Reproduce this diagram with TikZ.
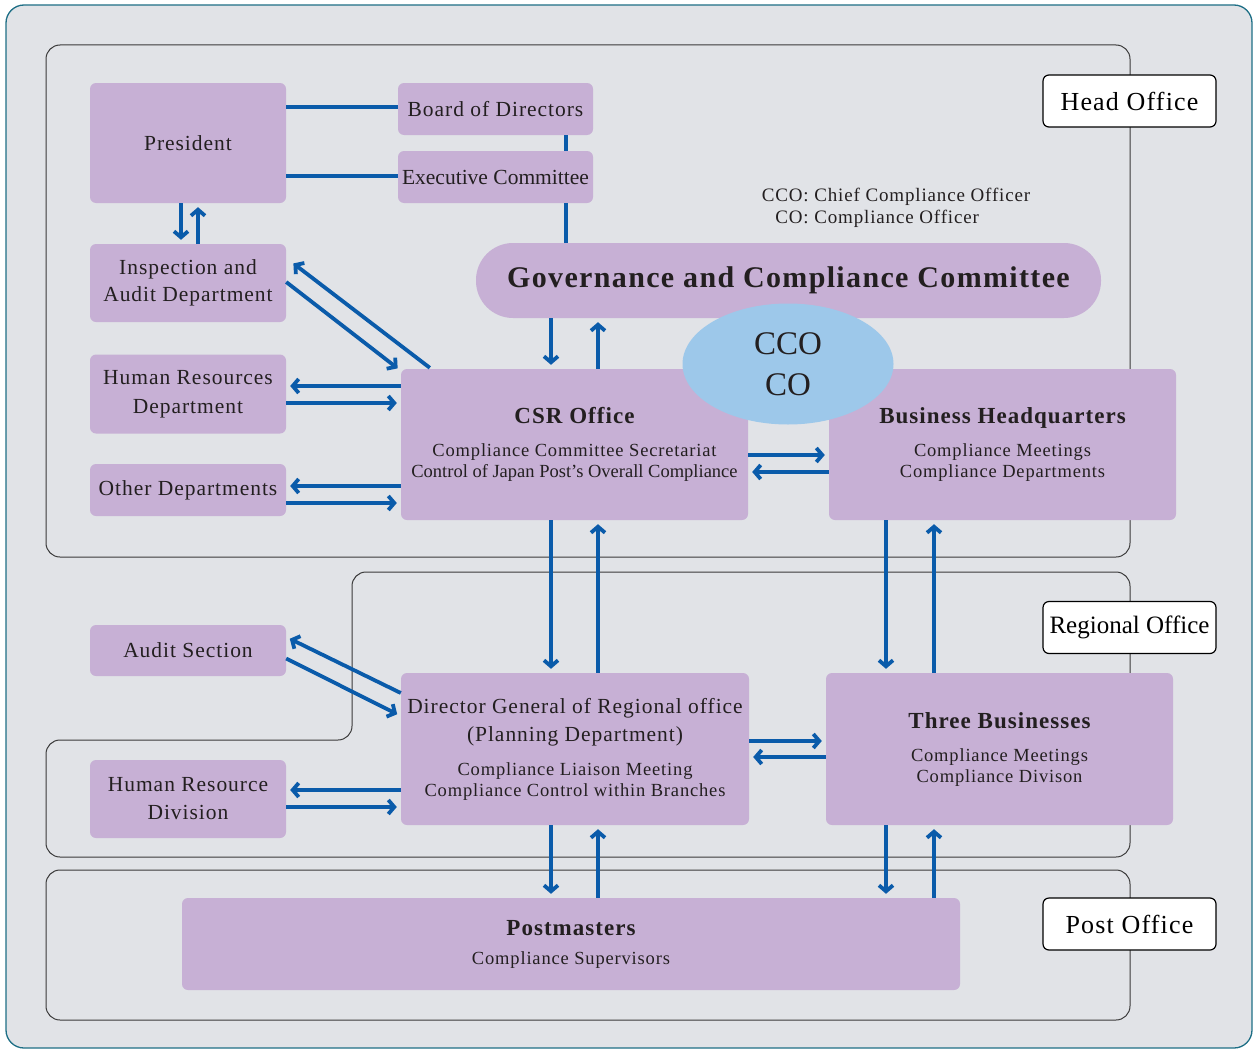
\documentclass[tikz,border=0pt]{standalone}
\usepackage{fontspec}
\setmainfont{Liberation Serif}[LetterSpace=4.5]
\newfontfamily\plainfont{Liberation Serif}
\usetikzlibrary{arrows.meta,calc,shapes.geometric}

\definecolor{pagebg}{HTML}{E1E3E7}
\definecolor{frame}{HTML}{1E6F86}
\definecolor{boxc}{HTML}{C7B0D5}
\definecolor{arrc}{HTML}{0A5BAA}
\definecolor{ovalc}{HTML}{9DC8EA}
\definecolor{regc}{HTML}{3A3A3A}
\definecolor{txt}{HTML}{231F20}

\tikzset{
  box/.style={fill=boxc, rounded corners=6pt, inner sep=1pt, align=center,
    text=txt, font=\fontsize{21.5}{27}\selectfont},
  subtext/.style={font=\fontsize{18.5}{21}\selectfont},
  arr/.style={draw=arrc, line width=3.8pt, shorten >=4pt,
    -{Straight Barb[length=6pt,width=14pt]}},
  link/.style={draw=arrc, line width=3.8pt},
  region/.style={draw=regc, line width=1pt, rounded corners=14pt},
  tag/.style={draw=black, fill=white, line width=1.2pt, rounded corners=6pt,
    minimum width=173pt, minimum height=52pt, inner sep=0pt, text=black,
    font=\fontsize{26}{30}\selectfont},
}
\newcommand{\ttl}[1]{{\fontsize{23}{28}\selectfont\bfseries #1}}
\newcommand{\dgl}[1]{{\fontsize{21.5}{28}\selectfont #1}}
\newcommand{\tight}[1]{{\plainfont #1}}

\begin{document}
\begin{tikzpicture}[x=1pt,y=-1pt]
\useasboundingbox (0,0) rectangle (1258,1049);

% background panel
\draw[fill=pagebg, draw=frame, line width=1.3pt, rounded corners=18pt] (6,5) rectangle (1252,1048);

% organisational levels
\draw[region] (46,45) rectangle (1130,557);
\draw[region] (352,572) -- (1130,572) -- (1130,857) -- (46,857) -- (46,740) -- (352,740) -- cycle;
\draw[region] (46,870) rectangle (1130,1020);

\node[tag] (thead) at (1129.5,101) {Head Office};
\node[tag, font=\plainfont\fontsize{25}{30}\selectfont] (treg) at (1129.5,627.5) {Regional Office};
\node[tag] (tpost) at (1129.5,924) {Post Office};

% head office units
\node[box, minimum width=196pt, minimum height=120pt] (pres) at (188,143) {President};
\node[box, minimum width=195pt, minimum height=52pt] (board) at (495.5,109) {Board of Directors};
\node[box, minimum width=195pt, minimum height=52pt] (exec) at (495.5,177) {\tight{Executive Committee}};
\node[box, minimum width=196pt, minimum height=78pt] (insp) at (188,283) {Inspection and\\Audit Department};
\node[box, minimum width=196pt, minimum height=79pt, font=\fontsize{21.5}{29}\selectfont] (hr) at (188,394) {Human Resources\\Department};
\node[box, minimum width=196pt, minimum height=52pt] (other) at (188,490) {Other Departments};

\node[box, rounded corners=37pt, minimum width=625pt, minimum height=75pt,
  font=\fontsize{30}{36}\selectfont\bfseries] (gov) at (788.5,280.5) {Governance and Compliance Committee};

\node[box, minimum width=347pt, minimum height=151pt, subtext] (csr) at (574.5,444.5)
  {\ttl{CSR Office}\\[12pt]Compliance Committee Secretariat\\\tight{Control of Japan Post’s Overall Compliance}};
\node[box, minimum width=347pt, minimum height=151pt, subtext] (bhq) at (1002.5,444.5)
  {\ttl{Business Headquarters}\\[12pt]Compliance Meetings\\Compliance Departments};

\node[ellipse, fill=ovalc, minimum width=211pt, minimum height=121pt, inner sep=0pt,
  align=center, text=txt, font=\plainfont\fontsize{33}{41}\selectfont] (cco) at (788,364) {CCO\\CO};

\node[text=txt, font=\fontsize{19}{22}\selectfont, inner sep=0pt] (legend) at (896,208)
  {\begin{tabular}{@{}r@{: }l@{}}CCO&Chief Compliance Officer\\CO&Compliance Officer\end{tabular}};

% regional office units
\node[box, minimum width=196pt, minimum height=51pt] (audit) at (188,650.5) {Audit Section};
\node[box, minimum width=196pt, minimum height=78pt, font=\fontsize{21.5}{28}\selectfont] (hrd) at (188,799) {Human Resource\\Division};
\node[box, minimum width=348pt, minimum height=152pt, subtext] (dg) at (575,749)
  {\dgl{Director General of Regional office}\\[7pt]\dgl{(Planning Department)}\\[13pt]Compliance Liaison Meeting\\Compliance Control within Branches};
\node[box, minimum width=347pt, minimum height=152pt, subtext] (three) at (999.5,749)
  {\ttl{Three Businesses}\\[12pt]Compliance Meetings\\Compliance Divison};

% post office units
\node[box, minimum width=778pt, minimum height=92pt, subtext] (post) at (571,944)
  {\ttl{Postmasters}\\[8pt]Compliance Supervisors};

% plain reporting lines
\draw[link] (pres.east |- 0,107) -- (board.west |- 0,107);
\draw[link] (pres.east |- 0,176) -- (exec.west |- 0,176);
\draw[link] (566,0 |- board.south) -- (566,0 |- exec.north);
\draw[link] (566,0 |- exec.south) -- (566,0 |- gov.north);

% president / inspection
\draw[arr] (181,0 |- pres.south) -- (181,0 |- insp.north);
\draw[arr] (198,0 |- insp.north) -- (198,0 |- pres.south);

% inspection / CSR
\draw[arr] (insp.east |- 0,282) -- ($(csr.north west)+(0,2)$);
\draw[arr] ($(csr.north west)+(29,-1)$) -- ($(insp.east |- 0,282)+(4,-21)$);

% HR and other departments / CSR
\draw[arr] (csr.west |- 0,386) -- (hr.east |- 0,386);
\draw[arr] (hr.east |- 0,403) -- (csr.west |- 0,403);
\draw[arr] (csr.west |- 0,486) -- (other.east |- 0,486);
\draw[arr] (other.east |- 0,503) -- (csr.west |- 0,503);

% committee / CSR
\draw[arr] (551,0 |- gov.south) -- (551,0 |- csr.north);
\draw[arr] (598,0 |- csr.north) -- (598,0 |- gov.south);

% CSR / business headquarters
\draw[arr] (csr.east |- 0,455) -- (bhq.west |- 0,455);
\draw[arr] (bhq.west |- 0,472) -- (csr.east |- 0,472);

% head office / regional office
\draw[arr] (551,0 |- csr.south) -- (551,0 |- dg.north);
\draw[arr] (598,0 |- dg.north) -- (598,0 |- csr.south);
\draw[arr] (886,0 |- bhq.south) -- (886,0 |- three.north);
\draw[arr] (934,0 |- three.north) -- (934,0 |- bhq.south);

% audit section / director general
\draw[arr] ($(audit.east)+(0,8)$) -- (dg.west |- 0,716);
\draw[arr] (dg.west |- 0,693) -- (audit.east |- 0,637);

% HR division / director general
\draw[arr] (dg.west |- 0,790) -- (hrd.east |- 0,790);
\draw[arr] (hrd.east |- 0,807) -- (dg.west |- 0,807);

% director general / three businesses
\draw[arr] (dg.east |- 0,741) -- (three.west |- 0,741);
\draw[arr] (three.west |- 0,757) -- (dg.east |- 0,757);

% regional office / post office
\draw[arr] (551,0 |- dg.south) -- (551,0 |- post.north);
\draw[arr] (598,0 |- post.north) -- (598,0 |- dg.south);
\draw[arr] (886,0 |- three.south) -- (886,0 |- post.north);
\draw[arr] (934,0 |- post.north) -- (934,0 |- three.south);
\end{tikzpicture}
\end{document}
